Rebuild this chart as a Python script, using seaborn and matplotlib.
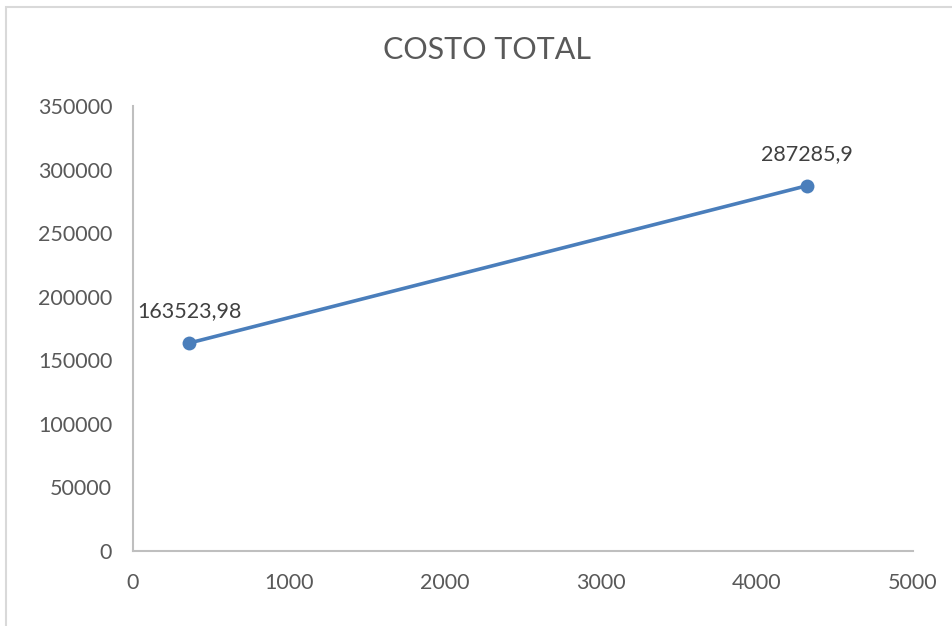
import matplotlib
matplotlib.use("Agg")
import matplotlib.pyplot as plt
import seaborn as sns
import pandas as pd
from matplotlib.patches import Rectangle

x_vals = [359, 4320]
y_vals = [163523.98, 287285.9]
labels = ["163523,98", "287285,9"]
title = "COSTO TOTAL"
x_ticks = [0, 1000, 2000, 3000, 4000, 5000]
y_ticks = [0, 50000, 100000, 150000, 200000, 250000, 300000, 350000]

sns.set_style("white")
plt.rcParams['font.family'] = ['Lato', 'DejaVu Sans']

df = pd.DataFrame({"x": x_vals, "y": y_vals})

fig = plt.figure(figsize=(9.53, 6.26), dpi=100)
ax = fig.add_axes([0.1396, 0.1198, 0.8184, 0.7109])

sns.lineplot(data=df, x="x", y="y", ax=ax, color="#4A7EBB", linewidth=2.6,
             marker="o", markersize=10, markeredgewidth=0, sort=False)

for xv, yv, lab in zip(x_vals, y_vals, labels):
    ax.annotate(lab, (xv, yv), xytext=(0, 23), textcoords="offset points",
                ha="center", va="center", fontsize=15.5, color="#404040")

ax.set_xlim(0, 5000)
ax.set_ylim(0, 350000)
ax.set_xticks(x_ticks)
ax.set_yticks(y_ticks)
ax.set_xticklabels([str(t) for t in x_ticks])
ax.set_yticklabels([str(t) for t in y_ticks])
ax.set_xlabel("")
ax.set_ylabel("")
for s in ["top", "right"]:
    ax.spines[s].set_visible(False)
for s in ["left", "bottom"]:
    ax.spines[s].set_color("#BFBFBF")
    ax.spines[s].set_linewidth(1.5)
ax.tick_params(axis="both", which="major", direction="out", length=5, width=1.5,
               color="#BFBFBF", labelcolor="#595959", labelsize=15.5)
ax.tick_params(axis="x", pad=11)
ax.tick_params(axis="y", pad=10)

fig.text(0.511, 0.92, title, ha="center", va="center", fontsize=22, color="#595959")

fig.patches.append(Rectangle((6/953, -0.1), 1.2, 1.1 - 7/626, transform=fig.transFigure,
                             fill=False, edgecolor="#D9D9D9", linewidth=1.5))

fig.savefig("out.png", dpi=100)
